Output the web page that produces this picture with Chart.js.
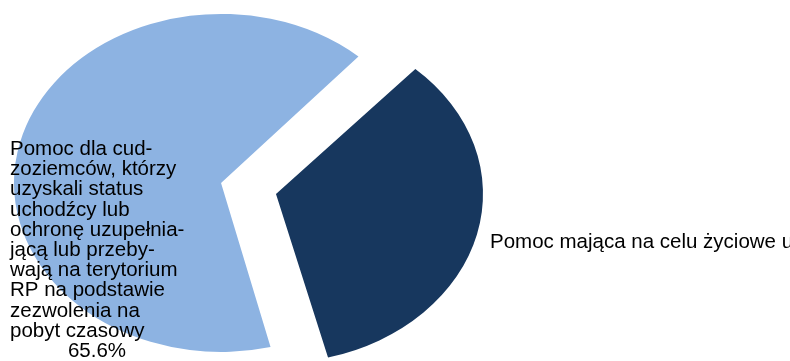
<!DOCTYPE html>
<html>
<head>
<meta charset="utf-8">
<script src="https://cdn.jsdelivr.net/npm/chart.js@4"></script>
<style>
  html, body { margin: 0; padding: 0; background: #fff; overflow: hidden; }
  #wrap { width: 790px; height: 361px; }
</style>
</head>
<body>
<div id="wrap"><canvas id="pieChart" width="790" height="361"></canvas></div>
<script>
// data
const categories = [
  "Pomoc dla cudzoziemców, którzy uzyskali status uchodźcy lub ochronę uzupełniającą lub przebywają na terytorium RP na podstawie zezwolenia na pobyt czasowy",
  "Pomoc mająca na celu życiowe usamodzielnienie"
];
const shares = [65.6, 34.4];
// label text as it is wrapped in the picture
const labelLines = [
  ["Pomoc dla cud-", "zoziemców, którzy", "uzyskali status", "uchodźcy lub",
   "ochronę uzupełnia-", "jącą lub przeby-", "wają na terytorium", "RP na podstawie",
   "zezwolenia na", "pobyt czasowy"],
  ["Pomoc mająca na celu życiowe usamodzielnienie"]
];

const sliceColors = ["#8DB3E2", "#17375E"];
const squash = 169 / 207; // pie is drawn as a flattened ellipse

// squash the pie vertically around its centre
const ellipsePlugin = {
  id: "ellipse",
  beforeDatasetsDraw(chart) {
    const arc = chart.getDatasetMeta(0).data[0];
    const ctx = chart.ctx;
    ctx.save();
    ctx.translate(0, arc.y);
    ctx.scale(1, squash);
    ctx.translate(0, -arc.y);
  },
  afterDatasetsDraw(chart) {
    chart.ctx.restore();
  }
};

// data labels placed like the original
const labelPlugin = {
  id: "sliceLabels",
  afterDraw(chart) {
    const ctx = chart.ctx;
    ctx.save();
    ctx.fillStyle = "#000";
    ctx.font = '20.5px "Liberation Sans", Arial, sans-serif';
    ctx.textBaseline = "alphabetic";

    // left (light) slice
    ctx.textAlign = "left";
    const lh = 20.2;
    labelLines[0].forEach((t, i) => ctx.fillText(t, 10, 155 + i * lh));
    ctx.textAlign = "center";
    ctx.fillText(shares[0].toFixed(1) + "%", 97, 155 + labelLines[0].length * lh);

    // right (dark) slice, runs off the edge
    ctx.textAlign = "left";
    ctx.fillText(labelLines[1][0], 490, 248);
    ctx.restore();
  }
};

const ctx = document.getElementById("pieChart").getContext("2d");
new Chart(ctx, {
  type: "pie",
  data: {
    labels: categories,
    datasets: [{
      data: shares,
      backgroundColor: sliceColors,
      borderWidth: 0,
      offset: [32.8, 193.6],
      radius: 198.8,
      rotation: 165.8,
      clip: false
    }]
  },
  options: {
    responsive: false,
    animation: false,
    events: [],
    layout: { padding: { left: 0, right: 332, top: 8, bottom: 0 } },
    plugins: {
      legend: { display: false },
      tooltip: { enabled: false },
      title: { display: false }
    }
  },
  plugins: [ellipsePlugin, labelPlugin]
});
</script>
</body>
</html>
